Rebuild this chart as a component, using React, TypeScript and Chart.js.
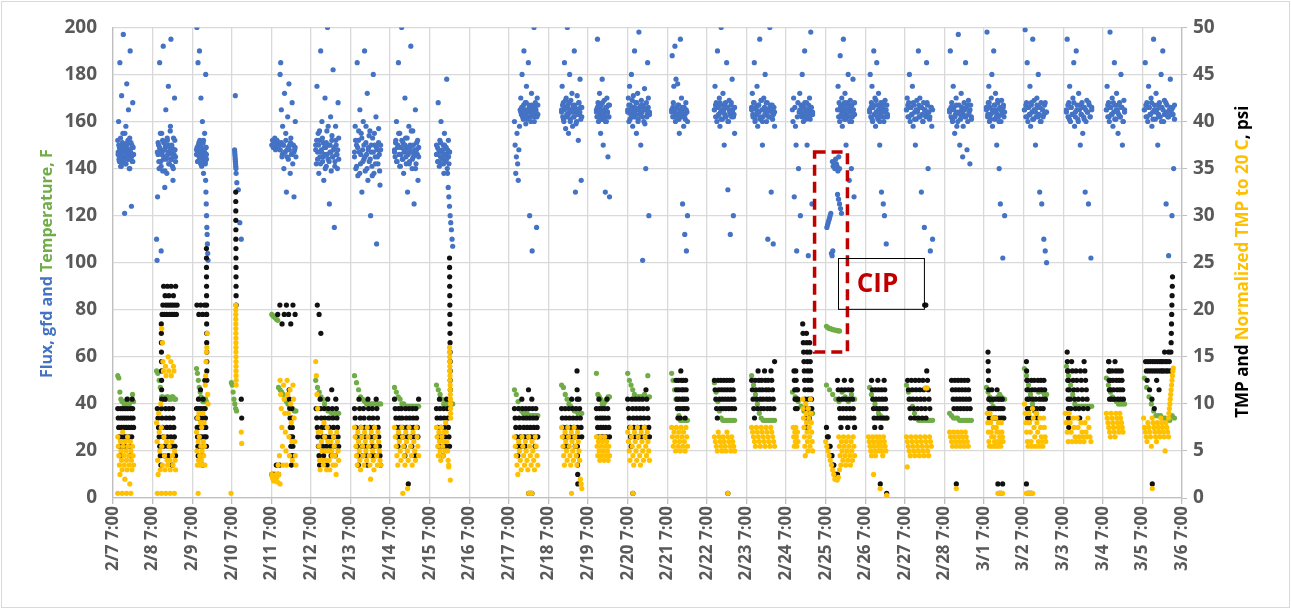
import React, { useEffect, useRef } from "react";
import { Chart, registerables } from "chart.js";

Chart.register(...registerables);

type Seg = [number, number, number, number[]];

// x axis: days since 2/7 7:00
const TICK_LABELS = [
  "2/7 7:00", "2/8 7:00", "2/9 7:00", "2/10 7:00", "2/11 7:00", "2/12 7:00", "2/13 7:00",
  "2/14 7:00", "2/15 7:00", "2/16 7:00", "2/17 7:00", "2/18 7:00", "2/19 7:00", "2/20 7:00",
  "2/21 7:00", "2/22 7:00", "2/23 7:00", "2/24 7:00", "2/25 7:00", "2/26 7:00", "2/27 7:00",
  "2/28 7:00", "3/1 7:00", "3/2 7:00", "3/3 7:00", "3/4 7:00", "3/5 7:00", "3/6 7:00",
];

// Segments: [day index, window start (fraction of day), window end, readings in time order]
const FLUX: Seg[] = [
  [0, 0.12, 0.52, [152,147,160,144,149,185,146,141,150,171,148,143,155,197,145,150,121,147,142,158,149,176,146,151,144,165,148,140,153,190,147,145,124,150,143,168,149,146]],
  [0, 0.13, 0.50, [146,150,143,148,153,141,147,151,145,149,144,155,148,142,150,146,152,144,148,140,147,151,145,149,143]],
  [1, 0.10, 0.58, [110,101,128,146,150,140,185,148,143,105,155,147,139,192,151,145,132,149,165,144,138,152,146,175,150,142,147,158,195,144,149,141,135,153,146,170,148,143]],
  [1, 0.12, 0.58, [147,151,143,149,155,141,146,152,144,148,139,150,145,153,147,142,149,156,144,150,146,140,148,152,145]],
  [2, 0.11, 0.36, [148,200,146,143,185,150,147,145,190,152,144,149,170,146,141,148,160,145,151,138,147,143,155,146,142,180,149,144]],
  [2, 0.11, 0.36, [146,149,143,147,151,145,148,142,150,146,144,148,152,145,147,143,149,146]],
  [2, 0.34, 0.40, [135,130,125,120,115,112,108,104,101]],
  [3, 0.07, 0.11, [148,147,146,145,144,143,142,141,140,138]],
  [3, 0.09, 0.24, [171,134,131,117,110]],
  [4, 0.01, 0.22, [150,152,149,151,153,148,150,152,149,151,150,148]],
  [4, 0.22, 0.62, [180,185,165,145,158,150,140,172,147,155,130,148,162,144,176,150,138,153,146,168,142,150,128,148,160,145]],
  [4, 0.22, 0.60, [148,151,146,150,147,152,145,149,148,151,146,150,147,149]],
  [5, 0.12, 0.70, [150,142,175,147,155,138,152,145,190,148,160,143,151,135,146,170,149,141,156,200,144,150,125,147,162,139,152,145,182,148,115,143,158,150,146,140,168,153]],
  [5, 0.12, 0.70, [148,152,144,150,156,142,147,153,145,149,140,151,146,158,143,150,147,154,145,149,141,152,146,148,144]],
  [6, 0.10, 0.76, [145,158,140,150,185,137,152,147,165,142,155,130,148,160,144,190,139,151,146,172,135,149,143,156,120,147,141,153,180,138,150,145,162,108,148,142,157,146,133,150]],
  [6, 0.10, 0.76, [147,152,141,149,156,138,146,153,143,150,145,158,140,148,154,144,150,137,147,155,142,149,145,151,139,148]],
  [7, 0.11, 0.72, [148,145,152,160,143,150,185,146,155,141,149,200,144,151,138,147,170,153,142,149,130,146,158,143,150,192,147,140,156,145,125,148,165,142,151,146,135,149]],
  [7, 0.11, 0.72, [147,151,143,149,155,141,146,152,144,148,150,145,153,147,142,149,156,144,150,146,140,148,152,145]],
  [8, 0.17, 0.50, [150,146,143,168,148,141,152,145,160,142,147,144,150,138,155,146,143,149,178,140,145,152,142,147]],
  [8, 0.17, 0.50, [146,149,143,147,151,145,148,142,150,146,144,148,145,147]],
  [8, 0.45, 0.58, [138,132,128,124,120,117,114,110,107]],
  [10, 0.14, 0.73, [160,150,138,145,155,142,135,148,158,165,170,163,180,166,161,190,164,168,159,175,165,162,185,167,120,164,160,172,105,166,163,200,162,168,165,115,170,163]],
  [10, 0.30, 0.73, [164,166,162,167,165,163,168,161,165,164,166,162,167,163,165,160,166,164,162,167]],
  [11, 0.33, 0.84, [165,175,162,168,160,185,166,157,170,163,200,167,155,164,180,161,169,165,172,158,166,162,190,167,130,164,160,171,165,152,168,163,178,166,135,162]],
  [11, 0.33, 0.84, [164,167,161,165,169,162,166,163,168,160,165,164,167,162,166,159,165,163,168,164,161,166]],
  [12, 0.21, 0.54, [165,162,195,168,160,166,172,163,155,167,161,178,165,150,164,169,162,130,166,160,170,164,145,167,162,128]],
  [12, 0.21, 0.54, [164,166,162,167,165,161,168,163,165,160,166,164,162,167]],
  [13, 0.00, 0.55, [165,170,160,175,167,163,180,166,158,171,164,190,162,168,155,165,172,161,198,166,163,150,169,164,101,167,160,174,165,140,168,162,185,166,120,163]],
  [13, 0.00, 0.55, [164,167,161,165,169,162,166,163,168,160,165,164,167,162,166,159,165,163,170,164]],
  [14, 0.11, 0.51, [165,188,162,168,175,164,192,160,178,166,163,176,161,167,155,164,195,162,170,165,125,163,158,166,112,161,168,105,164,120]],
  [14, 0.11, 0.51, [164,166,162,165,163,167,161,165,164,166,162,163,165,160]],
  [15, 0.19, 0.70, [165,175,162,168,160,190,166,163,170,158,164,200,167,161,172,165,150,163,168,162,185,166,131,160,169,164,112,167,162,178,165,120,163,155]],
  [15, 0.19, 0.70, [165,167,162,166,163,168,161,165,164,167,162,166,160,165,163,168,164,162,166]],
  [16, 0.13, 0.71, [165,172,162,168,185,160,166,163,175,158,167,164,195,161,169,165,150,162,170,166,180,163,160,168,110,165,162,200,167,130,164,161,108,166,158]],
  [16, 0.13, 0.71, [166,163,168,161,165,164,167,162,169,160,165,163,168,164,162,166,165,167,163,164]],
  [17, 0.16, 0.67, [165,160,170,128,166,158,150,105,162,168,140,164,172,120,165,163,180,167,160,166,190,164,162,168,150,165,103,163,170,161,198,166,125,164]],
  [17, 0.35, 0.67, [165,167,162,166,163,168,161,165,164,167,162,166,164,163]],
  [18, 0.03, 0.18, [115,116,117,118,119,120,121,104,103,105]],
  [18, 0.17, 0.35, [143,141,142,140,144,142,141,139,145,140]],
  [18, 0.30, 0.40, [129,127,125,123,121]],
  [18, 0.30, 0.73, [165,175,162,168,160,188,166,163,170,158,164,195,167,161,172,165,150,163,168,162,180,166,135,160,169,164,140,167,162,178,165,128,163]],
  [18, 0.35, 0.73, [165,167,162,166,163,168,161,165,164,167,162,166,160,165,163,168]],
  [19, 0.11, 0.56, [165,180,162,168,175,160,166,190,163,170,158,164,185,167,161,172,165,150,163,168,130,162,166,125,160,120,169,164,108,167,162]],
  [19, 0.11, 0.56, [164,166,161,167,163,169,162,165,160,166,164,168,162,165,163]],
  [20, 0.04, 0.70, [165,170,162,168,180,160,166,163,175,158,167,164,150,161,169,165,190,162,170,166,130,163,160,168,115,165,162,185,167,140,164,161,105,166,158,110]],
  [20, 0.04, 0.70, [165,167,162,166,163,168,161,165,164,167,162,166,160,165,163,168,164,162,166,165]],
  [21, 0.13, 0.68, [165,190,162,168,160,175,166,155,163,170,158,164,197,167,150,161,172,165,145,163,168,162,185,166,148,160,169,164,142,167,162]],
  [21, 0.13, 0.68, [164,166,161,165,162,167,160,164,163,166,158,165,162,167,163,165,161]],
  [22, 0.06, 0.52, [165,198,162,168,175,160,166,163,170,180,158,164,190,167,161,172,165,150,163,168,162,140,166,125,160,169,164,102,167,162,120]],
  [22, 0.06, 0.52, [166,163,168,161,165,164,167,162,169,160,165,163,166,164]],
  [23, 0.02, 0.58, [165,199,162,168,185,160,166,163,175,158,167,164,195,161,169,165,150,162,170,166,180,163,130,160,168,125,165,162,110,167,105,164,100]],
  [23, 0.02, 0.58, [165,167,162,166,163,168,161,165,164,167,162,166,160,165,163,168,164]],
  [24, 0.08, 0.72, [165,195,162,168,175,160,166,163,170,185,158,164,190,167,161,172,165,150,163,168,155,162,166,130,160,169,164,125,167,162,102,165]],
  [24, 0.08, 0.72, [164,167,161,166,163,168,162,165,160,167,163,166,161,165,164,168,162,166]],
  [25, 0.09, 0.55, [165,175,162,168,160,198,166,163,170,158,164,185,167,161,172,165,155,163,168,162,180,166,150,160,169,164]],
  [25, 0.09, 0.55, [165,167,162,166,163,168,161,165,164,167,162,166,160,165]],
  [26, 0.05, 0.81, [165,185,162,168,160,175,166,163,170,158,164,195,167,161,172,165,150,163,168,162,180,166,190,160,169,164,125,167,162,103,165,178,163,120,166,140,161]],
  [26, 0.05, 0.81, [165,167,162,166,163,168,161,165,164,167,162,166,160,165,163,168,164,162,166,165,163,167]],
];

const TEMPERATURE: Seg[] = [
  [0, 0.12, 0.52, [52,51,45,42,41,41,40,40,41,41,42,40,41,41,44,41]],
  [1, 0.10, 0.58, [54,53,50,47,43,43,42,42,43,43,42,42,43,43,42,42]],
  [2, 0.11, 0.36, [55,53,50,47,45,43,42,41,41,41,42,41]],
  [3, -0.01, 0.12, [49,48,45,42,40,38,37]],
  [4, 0.01, 0.16, [78,77.5,77,76.5,76,75.5]],
  [4, 0.18, 0.62, [47,46,45,44,42,41,40,39,38,38,37,37]],
  [5, 0.12, 0.70, [50,47,45,43,42,40,38,37,37,36,36,36,36,36]],
  [6, 0.10, 0.76, [52,49,46,43,42,41,40,40,40,40,40,40,40,40]],
  [7, 0.11, 0.72, [47,45,43,42,40,40,39,39,39,39,39,39,39,39]],
  [8, 0.17, 0.58, [48,46,44,42,40,40,40,40,40,40]],
  [10, 0.14, 0.73, [46,44,41,38,37,36,36,36,35,35,35,35,35,35]],
  [11, 0.33, 0.84, [48,47,44,42,40,39,38,37,37,36,36,36]],
  [12, 0.21, 0.54, [53,44,43,42,40,40,41,42,43,43]],
  [13, 0.00, 0.55, [53,50,48,46,44,43,43,43,43,43,44,43,52,43]],
  [14, 0.11, 0.51, [53,50,46,42,38,35,33,33,33,33,33,33]],
  [15, 0.19, 0.70, [49,45,41,37,34,33,33,33,33,33,33,33,33]],
  [16, 0.13, 0.71, [52,48,44,40,36,34,33,33,33,33,33,33,33]],
  [17, 0.16, 0.67, [45,43,41,39,37,37,36,36]],
  [18, 0.02, 0.35, [73,72.5,72,72,71.8,71.5,71.5,71.3,71.2,71,71]],
  [18, 0.02, 0.73, [48,46,44,42,41,45,43,41,44,42]],
  [19, 0.11, 0.56, [47,44,42,40,38,36,35,34,34,34,34]],
  [20, 0.04, 0.70, [48,45,42,39,36,34,33,33,33,33,33,33,33,33]],
  [21, 0.13, 0.68, [36,35,34,34,34,33,33,33,33,33,33,33]],
  [22, 0.06, 0.52, [47,45,43,41,39,38,38,43,44,43,42,42]],
  [23, 0.02, 0.58, [55,52,48,44,40,37,36,45,46,45,44,44]],
  [24, 0.08, 0.72, [56,52,48,44,40,39,39,39,39,39,39,39,39]],
  [25, 0.09, 0.55, [51,48,45,43,42,41,40,40,40,40]],
  [26, 0.05, 0.81, [51,47,43,40,37,35,35,35,34,34,33,33,35,34]],
];

const TMP: Seg[] = [
  [0, 0.12, 0.52, [9.5,8.5,7.5,6.5,5.5,4.5,9.5,8.5,7.5,6.5,5.5,9.5,8.5,7.5,6.5,5.5,9.5,8.5,7.5,6.5,10.5,9.5,8.5,7.5,6.5,5.5,4.5,9.5,8.5,7.5,6.5,10.5,9.5,8.5,7.5]],
  [1, 0.22, 0.23, [18.5,17.5,16.5,15.5,14.5,13.5,12.5,11.5,10.5]],
  [1, 0.12, 0.58, [9.5,8.5,7.5,6.5,5.5,4.5,3.5,9.5,8.5,7.5,6.5,5.5,4.5,10.5,9.5,8.5,7.5,6.5,5.5,4.5,9.5,8.5,7.5,6.5,5.5,3.5,9.5,8.5,7.5,6.5,5.5,4.5]],
  [1, 0.24, 0.62, [19.5,20.5,22.5,19.5,21.5,20.5,19.5,22.5,20.5,21.5,19.5,20.5,22.5,19.5,20.5,21.5,19.5,20.5,22.5,19.5,20.5]],
  [2, 0.36, 0.37, [26.5,25.5,24.5,23.5,22.5,21.5,20.5,19.5,18.5,17.5,16.5,15.5,14.5,13.5,12.5]],
  [2, 0.11, 0.36, [9.5,8.5,7.5,6.5,5.5,4.5,10.5,9.5,8.5,7.5,6.5,5.5,11.5,9.5,8.5,7.5,6.5,5.5,4.5,3.5,10.5,9.5,8.5,7.5,6.5,12.5,9.5,8.5,7.5,6.5,5.5]],
  [2, 0.12, 0.36, [20.5,19.5,20.5,19.5,20.5,19.5]],
  [3, 0.10, 0.11, [32.5,31.5,30.5,29.5,28.5,27.5,26.5,25.5,24.5,23.5,22.5,21.5,20.5]],
  [3, 0.24, 0.25, [10.5,8.5]],
  [4, 0.16, 0.60, [19.5,20.5,18.5,19.5,20.5,19.5,18.5,20.5,19.5]],
  [4, 0.01, 0.21, [2.5,2.5,2.5,2.5,3.5,2.5,2.5,3.5]],
  [4, 0.45, 0.55, [11.5,10.5,9.5,8.5,7.5,6.5,5.5,4.5,3.5,9.5,8.5,7.5,6.5,5.5,4.5]],
  [5, 0.16, 0.25, [20.5,19.5,17.5]],
  [5, 0.13, 0.70, [9.5,8.5,7.5,6.5,5.5,4.5,3.5,10.5,9.5,8.5,7.5,6.5,5.5,4.5,9.5,8.5,7.5,6.5,5.5,3.5,10.5,9.5,8.5,7.5,6.5,5.5,4.5,11.5,9.5,8.5,7.5,6.5,5.5,4.5,10.5,9.5,8.5,7.5,6.5,5.5]],
  [6, 0.10, 0.76, [9.5,8.5,7.5,6.5,5.5,4.5,3.5,10.5,9.5,8.5,7.5,6.5,5.5,4.5,9.5,8.5,7.5,6.5,5.5,4.5,3.5,10.5,9.5,8.5,7.5,6.5,5.5,4.5,9.5,8.5,7.5,6.5,5.5,4.5,10.5,9.5,8.5,7.5,6.5,5.5,4.5,3.5]],
  [7, 0.11, 0.72, [10.5,9.5,8.5,7.5,6.5,5.5,9.5,8.5,7.5,6.5,9.5,8.5,7.5,6.5,5.5,4.5,9.5,8.5,7.5,6.5,1.5,9.5,8.5,7.5,6.5,5.5,9.5,8.5,7.5,6.5,4.5,9.5,8.5,7.5,6.5,10.5]],
  [8, 0.50, 0.52, [25.5,24.5,23.5,22.5,21.5,20.5,19.5,18.5,17.5,16.5,15.5,14.5,13.5,12.5,11.5]],
  [8, 0.17, 0.50, [9.5,8.5,7.5,6.5,5.5,10.5,9.5,8.5,7.5,6.5,5.5,4.5,9.5,8.5,7.5,6.5,5.5,10.5,9.5,8.5,7.5,6.5,5.5]],
  [10, 0.14, 0.73, [9.5,8.5,7.5,6.5,5.5,4.5,9.5,8.5,7.5,6.5,5.5,10.5,9.5,8.5,7.5,6.5,5.5,9.5,8.5,7.5,6.5,11.5,9.5,8.5,7.5,6.5,10.5,9.5,8.5,7.5,6.5,5.5,9.5,8.5,7.5,6.5]],
  [10, 0.50, 0.58, [0.5,0.5,0.5]],
  [11, 0.72, 0.74, [13.5,11.5,10.5,5.5,4.5,3.5,2.5,1.5]],
  [11, 0.33, 0.84, [9.5,8.5,7.5,6.5,5.5,9.5,8.5,7.5,6.5,5.5,9.5,8.5,7.5,6.5,10.5,9.5,8.5,7.5,6.5,5.5,9.5,8.5,7.5,6.5,10.5,9.5,8.5,7.5,6.5]],
  [12, 0.21, 0.54, [9.5,8.5,7.5,6.5,10.5,9.5,8.5,7.5,6.5,9.5,8.5,7.5,6.5,9.5,8.5,7.5,6.5,10.5,9.5,8.5,7.5,6.5]],
  [13, 0.00, 0.55, [10.5,9.5,8.5,7.5,6.5,5.5,10.5,9.5,8.5,7.5,6.5,10.5,9.5,8.5,7.5,6.5,10.5,9.5,8.5,7.5,6.5,10.5,9.5,8.5,7.5,6.5,11.5,10.5,9.5,8.5,7.5,6.5]],
  [13, 0.13, 0.13, [0.5]],
  [14, 0.22, 0.50, [12.5,11.5,10.5,9.5,8.5,12.5,11.5,10.5,9.5,8.5,13.5,12.5,11.5,10.5,9.5,12.5,11.5,10.5,9.5,8.5,12.5,11.5,10.5,9.5]],
  [15, 0.19, 0.70, [12.5,11.5,10.5,9.5,8.5,12.5,11.5,10.5,9.5,12.5,11.5,10.5,9.5,12.5,11.5,10.5,9.5,12.5,11.5,10.5,9.5,12.5,11.5,10.5,9.5,12.5,11.5,10.5,9.5]],
  [15, 0.53, 0.53, [0.5]],
  [16, 0.13, 0.71, [12.5,11.5,10.5,9.5,8.5,12.5,11.5,10.5,9.5,13.5,12.5,11.5,10.5,9.5,12.5,11.5,10.5,9.5,13.5,12.5,11.5,10.5,9.5,12.5,11.5,10.5,9.5,13.5,12.5,11.5,10.5,9.5,14.5]],
  [17, 0.20, 0.30, [13.5,12.5,11.5,10.5,9.5,13.5,12.5,11.5,10.5,9.5,11.5,10.5]],
  [17, 0.42, 0.65, [18.5,17.5,16.5,15.5,14.5,13.5,12.5,11.5,10.5,9.5,8.5,7.5,17.5,16.5,15.5,14.5,13.5,12.5,11.5,10.5,9.5,8.5,16.5,15.5,14.5,13.5,12.5,11.5,10.5,9.5]],
  [18, 0.02, 0.30, [7.5,6.5,6.5,5.5,5.5,4.5,4.5,3.5,3.5,2.5,2.5,2.5,2.5]],
  [18, 0.30, 0.73, [12.5,11.5,10.5,9.5,8.5,7.5,11.5,10.5,9.5,8.5,12.5,11.5,10.5,9.5,8.5,7.5,11.5,10.5,9.5,8.5,12.5,11.5,10.5,9.5,8.5,7.5]],
  [19, 0.16, 0.54, [12.5,11.5,10.5,9.5,8.5,7.5,11.5,10.5,9.5,8.5,12.5,11.5,10.5,9.5,8.5,7.5,11.5,10.5,9.5,8.5,12.5,11.5,10.5,9.5,8.5]],
  [19, 0.38, 0.54, [1.5,0.5]],
  [20, 0.07, 0.63, [12.5,11.5,10.5,9.5,8.5,12.5,11.5,10.5,9.5,8.5,12.5,11.5,10.5,9.5,8.5,12.5,11.5,10.5,9.5,8.5,12.5,11.5,10.5,9.5,8.5,13.5,12.5,11.5,10.5,9.5]],
  [20, 0.50, 0.53, [20.5,20.5]],
  [21, 0.18, 0.65, [12.5,11.5,10.5,9.5,12.5,11.5,10.5,9.5,12.5,11.5,10.5,9.5,12.5,11.5,10.5,9.5,12.5,11.5,10.5,9.5,12.5,11.5,10.5,9.5]],
  [21, 0.30, 0.30, [1.5]],
  [22, 0.10, 0.13, [15.5,14.5,13.5,12.5,11.5,10.5,9.5,8.5]],
  [22, 0.14, 0.50, [10.5,9.5,8.5,11.5,10.5,9.5,8.5,10.5,9.5,8.5,11.5,10.5,9.5,8.5,10.5,9.5,8.5,10.5,9.5,8.5]],
  [22, 0.35, 0.47, [1.5,0.5,0.5,1.5]],
  [23, 0.07, 0.10, [14.5,13.5,12.5,11.5,10.5,9.5,8.5]],
  [23, 0.10, 0.55, [12.5,11.5,10.5,9.5,8.5,12.5,11.5,10.5,9.5,12.5,11.5,10.5,9.5,8.5,12.5,11.5,10.5,9.5,12.5,11.5,10.5,9.5,12.5,11.5,10.5]],
  [23, 0.07, 0.20, [1.5,0.5,0.5,0.5,0.5]],
  [24, 0.10, 0.14, [15.5,14.5,13.5,12.5,11.5,10.5,9.5,8.5,7.5]],
  [24, 0.12, 0.62, [13.5,12.5,11.5,10.5,9.5,14.5,13.5,12.5,11.5,10.5,9.5,13.5,12.5,11.5,10.5,9.5,8.5,13.5,12.5,11.5,10.5,9.5,14.5,13.5,12.5,11.5,10.5,9.5]],
  [25, 0.15, 0.17, [14.5,13.5,12.5,11.5,10.5]],
  [25, 0.15, 0.52, [14.5,13.5,12.5,11.5,10.5,13.5,12.5,11.5,10.5,14.5,13.5,12.5,11.5,10.5,13.5,12.5,11.5,10.5,13.5,12.5,11.5,10.5]],
  [26, 0.08, 0.70, [14.5,13.5,12.5,14.5,13.5,11.5,14.5,13.5,10.5,14.5,13.5,9.5,14.5,13.5,12.5,14.5,13.5,11.5,14.5,13.5,14.5,13.5,14.5,13.5,15.5,14.5,13.5,14.5,13.5,15.5,14.5,13.5]],
  [26, 0.72, 0.76, [15.5,16.5,17.5,18.5,19.5,20.5,21.5,22.5,23.5]],
  [26, 0.25, 0.25, [1.5]],
];

const NORMALIZED_TMP: Seg[] = [
  [0, 0.12, 0.52, [6.5,5.5,4.5,3.5,2.5,6,5,4,3,7,5.5,4.5,3.5,2,6,5,4,3,6.5,5.5,4.5,3.5,1.5,6,5,4,3,5.5,4.5,3.5]],
  [0, 0.12, 0.45, [0.5,0.5,0.5,0.5]],
  [1, 0.10, 0.58, [8,6,4,2.5,9,7,5,3,10,7.5,5.5,3.5,14.5,13.5,6.5,4.5,3,14,13,6,4,3.5,15,13.5,5.5,4,3,14.5,13,6,4.5,3.5,14,13.5,5,4,3]],
  [1, 0.12, 0.55, [0.5,0.5,0.5,0.5,0.5]],
  [1, 0.23, 0.25, [18,16.5]],
  [2, 0.11, 0.40, [7,5,3.5,8.5,6,4,9,6.5,4.5,3.5,8,5.5,4,7.5,5,3.5,9,6,4.5,8,5.5,3.5,12,13,14.5,15.5,16,17.5,11,10]],
  [2, 0.15, 0.15, [0.5]],
  [3, 0.10, 0.11, [20.5,20,19.5,19,18.5,18,17.5,17,16.5,16,15.5,15,14.5,14,13.5,13,12.5,12]],
  [3, -0.02, -0.02, [0.5]],
  [3, 0.24, 0.25, [7,5.8]],
  [4, 0.01, 0.22, [2.5,2.2,2,1.8,2.4,2.1,1.9,2.5,2.2,1.7,3.5,2.5,4.5,1.5]],
  [4, 0.22, 0.62, [12.5,11,9.5,7.5,5.5,3.5,12,10.5,9,7,5,3.5,12.5,11,9,6.5,4.5,11.5,10,8,6,4,12,10.5,8.5,6,4.5,3.5]],
  [5, 0.12, 0.70, [14.5,13,11,9.5,7,5.5,4,3,7,6,5,4,3.5,8,6.5,5,4,3,7.5,6,5,4,3,7,6,5,4.5,3.5,6.5,5.5,4.5,3.5,2.5,7,6,5,4]],
  [6, 0.10, 0.76, [7.5,6.5,5.5,4.5,3.5,7,6,5,4,3,7.5,6.5,5.5,4.5,3.5,7,6,5,4,7.5,6.5,5.5,4.5,3.5,2,7,6,5,4,3,7.5,6.5,5.5,4.5,3.5,7,6,5,4,3.5]],
  [7, 0.11, 0.72, [7.5,6.5,5.5,4.5,3.5,7,6,5,4,7.5,6.5,5.5,4.5,3.5,7,6,5,4,7.5,6.5,5.5,4.5,3.5,7,6,5,4,7.5,6.5,5.5,4.5]],
  [7, 0.32, 0.44, [0.5,1]],
  [8, 0.17, 0.48, [7.5,6.5,5.5,4.5,7,6,5,4,7.5,6.5,5.5,4.5,7,6,5,8,7,6,5,4,3.5]],
  [8, 0.50, 0.53, [16,15.5,15,14.5,14,13.5,13,12.5,12,11.5,11,10.5,10,9.5,9,8.5]],
  [8, 0.48, 0.52, [3.3,1.9]],
  [10, 0.14, 0.73, [6.5,5.5,4.5,3.5,2.5,6,5,4,3,6.5,5.5,4.5,3.5,6,5,4,3,6.5,5.5,4.5,3.5,6,5,4,3,6.5,5.5,4.5,3.5]],
  [10, 0.50, 0.58, [0.5,0.5,0.5]],
  [11, 0.33, 0.84, [7.5,6.5,5.5,4.5,3.5,7,6,5,4,7.5,6.5,5.5,4.5,3.5,7,6,5,4,7.5,6.5,5.5,4.5,3.5,7,6,5,4,2,1.5,1]],
  [11, 0.58, 0.58, [0.5]],
  [12, 0.21, 0.54, [6.5,5.5,4.5,6,5,4,6.5,5.5,4.5,6,5,4,6.5,5.5,4.5,6,5,4,5.5,4.5]],
  [13, 0.00, 0.55, [7,6,5,4,7.5,6.5,5.5,4.5,3.5,7,6,5,4,7.5,6.5,5.5,4.5,3.5,7,6,5,4,7.5,6.5,5.5,4.5,7,6,5,4]],
  [13, 0.13, 0.13, [0.5]],
  [14, 0.11, 0.51, [7.5,6.5,5.5,7,6,5,7.5,6.5,5.5,7,6,5,7.5,6.5,5.5,7,6,5,7.5,6.5,5.5]],
  [15, 0.19, 0.70, [6.5,6,5.5,5,7,6.5,6,5.5,5,6.5,6,5.5,5,7,6.5,6,5.5,5,6.5,6,5.5,5]],
  [15, 0.53, 0.53, [0.5]],
  [16, 0.13, 0.71, [7.5,7,6.5,6,5.5,7.5,7,6.5,6,5.5,7.5,7,6.5,6,5.5,7.5,7,6.5,6,5.5,7.5,7,6.5,6,5.5]],
  [17, 0.18, 0.30, [7.5,6.5,5.5,7,6,7.5,6.5,5.5,7,6]],
  [17, 0.42, 0.67, [10.5,9.5,8.5,7.5,6.5,5.5,4.5,10,9,8,7,6,5,9.5,8.5,7.5,6.5,5.5,10.5,9,8,7,6,5]],
  [18, 0.00, 0.35, [6,5.5,5,4.5,4,3.5,3,2.5,2,2,1.9,2.2,3]],
  [18, 0.33, 0.73, [6.5,5.5,4.5,3.5,6,5,4,6.5,5.5,4.5,3.5,6,5,4,6.5,5.5,4.5,3.5,6,5,4,6.5,5.5,4.5]],
  [19, 0.08, 0.52, [6.5,6,5.5,5,4.5,6.5,6,5.5,5,4.5,6.5,6,5.5,5,6.5,6,5.5,5,4.5,6.5,6,5.5,5]],
  [19, 0.21, 0.54, [2.5,1,0.3]],
  [20, 0.04, 0.67, [6.5,6,5.5,5,4.5,6.5,6,5.5,5,4.5,6.5,6,5.5,5,4.5,6.5,6,5.5,5,4.5,6.5,6,5.5,5,4.5,6.5,6,5.5]],
  [20, 0.06, 0.06, [3.3]],
  [20, 0.52, 0.56, [11.7,11.7]],
  [21, 0.13, 0.60, [7,6.5,6,5.5,7,6.5,6,5.5,7,6.5,6,5.5,7,6.5,6,5.5,7,6.5,6,5.5]],
  [21, 0.30, 0.30, [1]],
  [22, 0.08, 0.48, [9,8,7,6,5.5,9,8,7,6.5,5.5,8.5,7.5,6.5,6,5.5,8.5,7.5,7,6,5.5,8,7,6.5,6,5.5,8,7,6.5,6]],
  [22, 0.35, 0.47, [0.5,0.5,0.5,0.5]],
  [23, 0.02, 0.56, [10,9,8,7,6,5.5,9,8,7,6,5.5,9.5,8.5,7.5,6.5,5.5,9,8,7,6,5.5,8.5,7.5,6.5,6,5.5,8.5,7.5,6.5,6]],
  [23, 0.07, 0.23, [0.5,0.5,0.5,0.5,0.5]],
  [24, 0.05, 0.70, [9,8,7,6,9,8,7,6,8.5,7.5,6.5,6,8.5,7.5,6.5,6,8,7,6.5,6,8,7,6.5,8.5,7.5,6.5,6]],
  [25, 0.09, 0.51, [9,8.5,8,7.5,7,6.5,9,8.5,8,7.5,7,6.5,9,8.5,8,7.5,7,9,8.5,8,7.5,7]],
  [26, 0.03, 0.66, [8.5,7.5,7,6.5,6,8,7.5,7,6.5,5.5,8.5,8,7.5,7,6.5,6,8,7.5,7,6.5,8.5,8,7.5,7,6.5,5,8,7.5,7,6.5]],
  [26, 0.66, 0.78, [8.5,9,9.5,10,10.5,11,11.5,12,12.5,13,13.5,13.8]],
  [26, 0.25, 0.25, [1]],
];

// CIP annotations in data units: [x from, x to, y from, y to] (left axis)
const CIP_DASHED_BOX = [17.72, 18.55, 62, 147];
const CIP_LABEL_BOX = [18.3, 20.47, 80.2, 101.8];
const CIP_LABEL = "CIP";

const FONT = "'Open Sans', 'Noto Sans', sans-serif";
const BLUE = "#4472C4";
const GREEN = "#70AD47";
const BLACK = "#111111";
const ORANGE = "#FFC000";
const RED = "#C00000";

function toPoints(segs: Seg[]) {
  const pts: { x: number; y: number }[] = [];
  for (const [day, a, b, vals] of segs) {
    const n = vals.length;
    vals.forEach((v, i) => {
      const t = n > 1 ? a + ((b - a) * i) / (n - 1) : a;
      pts.push({ x: day + t, y: v });
    });
  }
  return pts;
}

function drawRotatedParts(ctx: CanvasRenderingContext2D, parts: [string, string][], cx: number, cy: number, font: string) {
  ctx.save();
  ctx.translate(cx, cy);
  ctx.rotate(-Math.PI / 2);
  ctx.font = font;
  ctx.textBaseline = "middle";
  ctx.textAlign = "left";
  const total = parts.reduce((s, p) => s + ctx.measureText(p[0]).width, 0);
  let x = -total / 2;
  for (const [text, color] of parts) {
    ctx.fillStyle = color;
    ctx.fillText(text, x, 0);
    x += ctx.measureText(text).width;
  }
  ctx.restore();
}

const overlayPlugin = {
  id: "overlay",
  afterDatasetsDraw(chart: any) {
    const { ctx, scales } = chart;
    const xs = scales.x;
    const ys = scales.y;
    ctx.save();
    const [dx1, dx2, dy1, dy2] = CIP_DASHED_BOX;
    ctx.strokeStyle = RED;
    ctx.lineWidth = 3.5;
    ctx.setLineDash([11, 6]);
    const l1 = xs.getPixelForValue(dx1), r1 = xs.getPixelForValue(dx2);
    const t1 = ys.getPixelForValue(dy2), b1 = ys.getPixelForValue(dy1);
    ctx.strokeRect(l1, t1, r1 - l1, b1 - t1);
    ctx.setLineDash([]);
    const [lx1, lx2, ly1, ly2] = CIP_LABEL_BOX;
    const l2 = xs.getPixelForValue(lx1), r2 = xs.getPixelForValue(lx2);
    const t2 = ys.getPixelForValue(ly2), b2 = ys.getPixelForValue(ly1);
    ctx.strokeStyle = "#000000";
    ctx.lineWidth = 1;
    ctx.strokeRect(Math.round(l2) + 0.5, Math.round(t2) + 0.5, r2 - l2, b2 - t2);
    ctx.fillStyle = RED;
    ctx.font = `bold 26px ${FONT}`;
    ctx.textAlign = "center";
    ctx.textBaseline = "middle";
    ctx.fillText(CIP_LABEL, (l2 + r2) / 2 - 3, (t2 + b2) / 2 + 1);
    ctx.restore();
  },
  afterDraw(chart: any) {
    const { ctx, chartArea, width, height } = chart;
    ctx.save();
    ctx.strokeStyle = "#d9d9d9";
    ctx.lineWidth = 1;
    ctx.strokeRect(1.5, 1.5, width - 3, height - 3);
    const cy = (chartArea.top + chartArea.bottom) / 2 + 1;
    drawRotatedParts(ctx, [["Flux, gfd and ", BLUE], ["Temperature, F", GREEN]], chartArea.left - 66, cy, `bold 16px ${FONT}`);
    drawRotatedParts(ctx, [["TMP and ", "#000000"], ["Normalized TMP to 20 C", ORANGE], [", psi", "#000000"]], chartArea.right + 61, cy - 2, `bold 17px ${FONT}`);
    ctx.restore();
  },
};

export default function App() {
  const ref = useRef<HTMLCanvasElement | null>(null);
  useEffect(() => {
    document.body.style.margin = "0";
    const canvas = ref.current;
    if (!canvas) return;
    const pointOpts = { pointRadius: 2.6, pointHoverRadius: 2.6, borderWidth: 0, showLine: false };
    const tickFont = { family: FONT, size: 19, weight: "bold" as const };
    const chart = new Chart(canvas, {
      type: "scatter",
      data: {
        datasets: [
          { label: "Flux", data: toPoints(FLUX), backgroundColor: BLUE, borderColor: BLUE, yAxisID: "y", order: 3, ...pointOpts },
          { label: "Temperature", data: toPoints(TEMPERATURE), backgroundColor: GREEN, borderColor: GREEN, yAxisID: "y", order: 2, ...pointOpts },
          { label: "TMP", data: toPoints(TMP), backgroundColor: BLACK, borderColor: BLACK, yAxisID: "y1", order: 1, ...pointOpts },
          { label: "Normalized TMP", data: toPoints(NORMALIZED_TMP), backgroundColor: ORANGE, borderColor: ORANGE, yAxisID: "y1", order: 0, ...pointOpts },
        ],
      },
      options: {
        responsive: false,
        animation: false,
        devicePixelRatio: 1,
        layout: { padding: { top: 27, left: 0, right: 0, bottom: 0 } },
        plugins: { legend: { display: false }, tooltip: { enabled: false }, title: { display: false } },
        scales: {
          x: {
            type: "linear",
            min: 0,
            max: 27,
            afterFit: (s: any) => { s.height = 111; },
            ticks: {
              stepSize: 1,
              autoSkip: false,
              maxRotation: 90,
              minRotation: 90,
              padding: 2,
              color: "#595959",
              font: { family: FONT, size: 17, weight: "bold" },
              callback: (v: any) => TICK_LABELS[Math.round(Number(v))] ?? "",
            },
            grid: { color: "#d9d9d9", tickLength: 6, tickColor: "#bfbfbf", lineWidth: 1.3 },
            border: { color: "#bfbfbf", width: 1.3 },
          },
          y: {
            position: "left",
            min: 0,
            max: 200,
            afterFit: (s: any) => { s.width = 113; },
            ticks: { stepSize: 20, padding: 16, color: "#595959", font: tickFont },
            grid: { color: "#d9d9d9", drawTicks: false, lineWidth: 1.3 },
            border: { color: "#bfbfbf", width: 1.3 },
          },
          y1: {
            position: "right",
            min: 0,
            max: 50,
            afterFit: (s: any) => { s.width = 109; },
            ticks: { stepSize: 5, padding: 6, color: "#595959", font: tickFont },
            grid: { drawOnChartArea: false, tickLength: 5, tickColor: "#bfbfbf" },
            border: { color: "#bfbfbf", width: 1.3 },
          },
        },
      },
      plugins: [overlayPlugin],
    });
    return () => chart.destroy();
  }, []);
  return (
    <div style={{ width: 1291, height: 609, background: "#ffffff" }}>
      <canvas ref={ref} width={1291} height={609} style={{ display: "block" }} />
    </div>
  );
}
